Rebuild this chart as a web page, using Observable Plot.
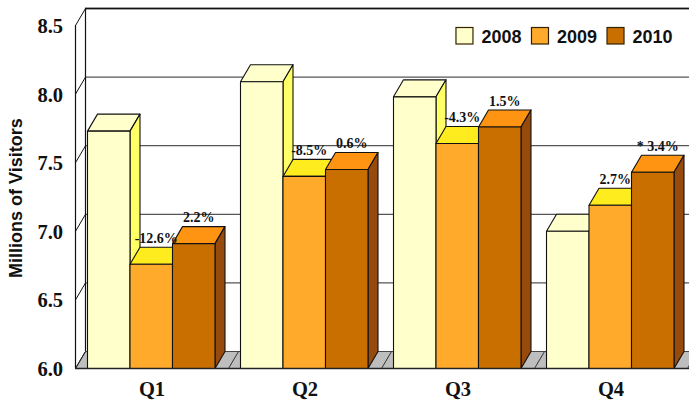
<!DOCTYPE html>
<html><head><meta charset="utf-8">
<script src="https://cdn.jsdelivr.net/npm/d3@7"></script>
<script src="https://cdn.jsdelivr.net/npm/@observablehq/plot@0.6"></script>
<style>html,body{margin:0;padding:0;background:#fff}svg{display:block}</style>
</head><body><div id="c"></div>
<script>
const quarters = ["Q1","Q2","Q3","Q4"];
const years = ["2008","2009","2010"];
const v2008 = [7.73, 8.09, 7.98, 7.0];
const v2009 = [6.76, 7.4, 7.64, 7.19];
const v2010 = [6.91, 7.45, 7.76, 7.43];
const labels2009 = ["-12.6%","-8.5%","-4.3%","2.7%"];
const labels2010 = ["2.2%","0.6%","1.5%","* 3.4%"];
const yTicks = [6, 6.5, 7, 7.5, 8, 8.5];
const frontColors = ["#FFFFCC","#FFAA2B","#C96F00"];
const topColors = ["#FFFFCC","#FFEC1F","#FF9412"];
const sideColors = ["#FFFF66","#B87A10","#964A0C"];

const series = [v2008, v2009, v2010];
const W = 689, H = 401, L = 75, R = 687, T = 25, B = 368;
const unitX = (R - L) / 4, unitY = (B - T) / 2.5;
const dx = 10 / unitX, dy = 17 / unitY;   // 3-D depth, in data units
const barInset = 12 / unitX, barW = 42.5 / unitX;

// polygons in draw order
const polys = [];
let pid = 0;
function poly(points, fill) {
  const z = pid++;
  [...points, points[0]].forEach(([x, y]) => polys.push({x, y, z, fill}));
}
// floor
poly([[0,6],[4.1,6],[4.1+dx,6+dy],[dx,6+dy]], "#BEBEBE");
const floorLines = [];
[0,1,2,3,4].forEach(i => floorLines.push({x1:i,y1:6,x2:i+dx,y2:6+dy}));
const wallLines = yTicks.map(t => ({x1:0,y1:t,x2:dx,y2:t+dy}));

quarters.forEach((q, i) => {
  series.forEach((s, k) => {
    const x0 = i + barInset + k * barW, x1 = x0 + barW, v = s[i];
    poly([[x0,v],[x1,v],[x1+dx,v+dy],[x0+dx,v+dy]], topColors[k]);
    poly([[x1,6],[x1,v],[x1+dx,v+dy],[x1+dx,6+dy]], sideColors[k]);
    poly([[x0,6],[x1,6],[x1,v],[x0,v]], frontColors[k]);
  });
});

const barLabels = [];
quarters.forEach((q, i) => {
  [[1,labels2009],[2,labels2010]].forEach(([k, arr]) => {
    barLabels.push({
      x: i + barInset + k * barW + barW / 2 + dx / 2,
      y: series[k][i] + dy,
      text: arr[i]
    });
  });
});

const legendX0 = 2.49, legendStep = 0.4936, legendSw = 17 / unitX;
const legend = years.map((yr, k) => ({
  yr, x1: legendX0 + k * legendStep, x2: legendX0 + k * legendStep + legendSw,
  y1: 8.5 - 2.5/unitY, y2: 8.5 - 19/unitY, fill: frontColors[k]
}));

const serif = '"Liberation Serif", serif';
const sans = '"Liberation Sans", Arial, sans-serif';
const ink = "#111";

const chart = Plot.plot({
  width: W, height: H,
  marginLeft: L, marginRight: W - R, marginTop: T, marginBottom: H - B,
  style: {background: "#fff"},
  x: {domain: [0, 4], range: [L, R], label: null},
  y: {domain: [6, 8.5], range: [B, T], label: null},
  color: {type: "identity"},
  marks: [
    // back gridlines
    Plot.ruleY(yTicks.slice(1), {y: d => d + dy, x1: dx, x2: 4.1, stroke: "#555", strokeWidth: 1.3}),
    Plot.ruleX([dx], {y1: 6 + dy, y2: 8.5 + dy, stroke: ink, strokeWidth: 1.2}),
    Plot.ruleY([8.5 + dy], {x1: dx, x2: 4.1, stroke: ink, strokeWidth: 1.4}),
    // left wall
    Plot.ruleX([0], {y1: 6, y2: 8.5, stroke: ink, strokeWidth: 1.2}),
    Plot.link(wallLines, {x1:"x1",y1:"y1",x2:"x2",y2:"y2",stroke: ink, strokeWidth: 1}),
    // floor + bars
    Plot.line(polys.slice(0, 5), {x:"x", y:"y", z:"z", fill:"fill", stroke:"#222", strokeWidth:0.8, curve:"linear"}),
    Plot.link(floorLines, {x1:"x1",y1:"y1",x2:"x2",y2:"y2",stroke:"#222", strokeWidth:0.9}),
    Plot.line(polys.slice(5), {x:"x", y:"y", z:"z", fill:"fill", stroke:"#111", strokeWidth:1.1, curve:"linear"}),
    // baseline
    Plot.ruleY([6], {x1: 0, x2: 4.1, stroke: "#222", strokeWidth: 1.6}),
    // value labels
    Plot.text(barLabels, {x:"x", y:"y", text:"text", dy:-9, fontFamily: serif, fontWeight:"bold", fontSize:14, fill:"#111"}),
    // legend
    Plot.rect(legend, {x1:"x1",x2:"x2",y1:"y1",y2:"y2",fill:"fill",stroke:"#332200",strokeWidth:1.2}),
    Plot.text(legend, {x:"x2", y:"y2", text:"yr", dx:8, dy:-7, textAnchor:"start", fontFamily:sans, fontWeight:"bold", fontSize:18, fill:"#111"}),
    // axes
    Plot.axisY(yTicks, {anchor:"left", tickSize:0, tickPadding:12.5, tickFormat:d3.format(".1f"), label:null,
      fontFamily: serif, fontWeight:"bold", fontSize:20.5, dy:1, fill:"#111"}),
    Plot.axisX([0.5,1.5,2.5,3.5], {anchor:"bottom", tickSize:0, tickPadding:12.5, tickFormat:d => quarters[d - 0.5], label:null,
      fontFamily: serif, fontWeight:"bold", fontSize:20.5, fill:"#111"}),
    // y title
    Plot.text(["Millions of Visitors"], {frameAnchor:"left", textAnchor:"start", rotate:-90, dx:-59, dy:81, fontFamily: sans, fontWeight:"bold", fontSize:18, fill:"#111"})
  ]
});
document.getElementById("c").appendChild(chart);
</script></body></html>
